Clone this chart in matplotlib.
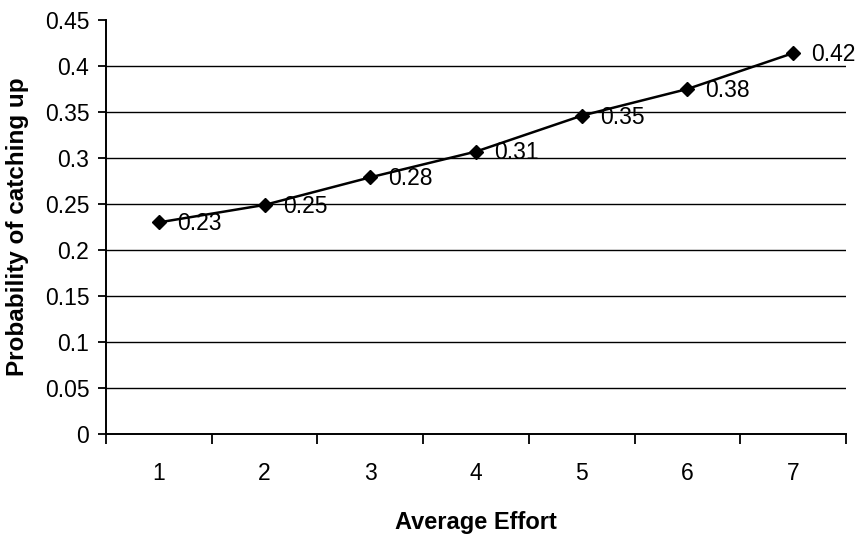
import numpy as np
import matplotlib.pyplot as plt
from matplotlib.ticker import FixedLocator

plt.rcParams["font.family"] = ["Liberation Sans", "DejaVu Sans"]

effort = [1, 2, 3, 4, 5, 6, 7]
probability = [0.230, 0.249, 0.279, 0.307, 0.346, 0.375, 0.414]
point_labels = ["0.23", "0.25", "0.28", "0.31", "0.35", "0.38", "0.42"]
y_ticks = [0, 0.05, 0.1, 0.15, 0.2, 0.25, 0.3, 0.35, 0.4, 0.45]
y_ticklabels = ["0", "0.05", "0.1", "0.15", "0.2", "0.25", "0.3", "0.35", "0.4", "0.45"]


def main() -> None:
    fig = plt.figure(figsize=(8.65, 5.36), dpi=100)
    ax = fig.add_axes([106 / 865, 1 - 434 / 536, 740 / 865, 414 / 536])

    x = np.array(effort)
    ax.plot(x, probability, color="black", lw=1.8, marker="D", ms=7,
            markerfacecolor="black", zorder=3, clip_on=False)
    for xi, yi, lab in zip(x, probability, point_labels):
        ax.annotate(lab, (xi, yi), xytext=(13, -1), textcoords="offset points",
                    ha="left", va="center", fontsize=16.5, annotation_clip=False)

    ax.set_xlim(0.5, 7.5)
    ax.set_ylim(0, 0.45)
    ax.yaxis.set_major_locator(FixedLocator(y_ticks))
    ax.set_yticklabels(y_ticklabels)
    for v in y_ticks[1:-1]:
        ax.axhline(v, color="black", lw=1.0, zorder=1)

    # category style: ticks on boundaries, labels centred
    ax.xaxis.set_major_locator(FixedLocator(np.arange(0.5, 7.6, 1)))
    ax.xaxis.set_minor_locator(FixedLocator(x))
    ax.set_xticklabels([])
    ax.set_xticklabels([str(e) for e in effort], minor=True)
    ax.tick_params(axis="x", which="major", length=7, width=1.3, direction="out")
    ax.tick_params(axis="x", which="minor", length=0, pad=20, labelsize=16.5)
    ax.tick_params(axis="y", length=6, width=1.3, direction="out", labelsize=16.5, pad=6)

    for s in ("top", "right"):
        ax.spines[s].set_visible(False)
    for s in ("left", "bottom"):
        ax.spines[s].set_linewidth(1.4)

    ax.set_xlabel("Average Effort", fontsize=17, fontweight="bold", labelpad=19)
    ax.set_ylabel("Probability of catching up", fontsize=17.5, fontweight="bold", labelpad=11)

    fig.savefig("out.png", dpi=100)


if __name__ == "__main__":
    main()
